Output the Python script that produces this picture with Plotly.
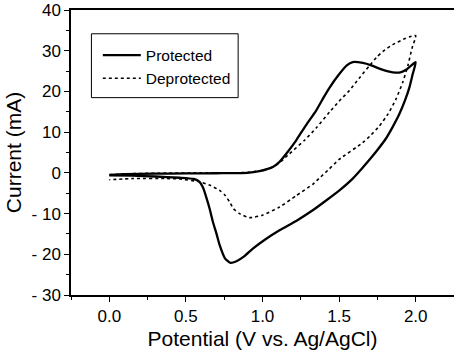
import plotly.graph_objects as go

# Protected (solid) cyclic voltammogram: forward then reverse scan
prot_x = [0.0, 0.1, 0.3, 0.5, 0.7, 0.9, 0.98, 1.03, 1.07, 1.111, 1.155, 1.22, 1.28, 1.35, 1.40,
          1.437, 1.50, 1.55, 1.589, 1.655, 1.71, 1.763, 1.82, 1.85, 1.90, 1.94, 2.0,
          1.98, 1.959, 1.93, 1.894, 1.85, 1.807, 1.75, 1.698, 1.645, 1.589, 1.502, 1.415,
          1.328, 1.22, 1.111, 1.02, 0.937, 0.88, 0.83, 0.79, 0.755, 0.72, 0.70, 0.676, 0.655,
          0.633, 0.61, 0.589, 0.55, 0.459, 0.3, 0.15, 0.0]
prot_y = [-0.5, -0.3, -0.2, -0.15, -0.1, 0.0, 0.4, 0.9, 1.5, 2.7, 4.7, 8.0, 11.5, 15.3, 18.6,
          20.9, 24.2, 26.4, 27.2, 27.0, 26.4, 25.6, 24.9, 24.7, 24.7, 25.4, 27.2,
          24.2, 21.0, 17.8, 14.5, 11.3, 8.5, 5.6, 3.2, 0.9, -1.4, -4.3, -6.8,
          -9.2, -11.8, -14.1, -16.3, -18.6, -20.5, -21.7, -22.1, -21.0, -17.7, -15.0, -12.0, -8.8,
          -6.0, -3.5, -2.2, -1.5, -1.2, -0.9, -0.7, -0.6]

# Deprotected (dotted) cyclic voltammogram
dep_x = [0.0, 0.1, 0.3, 0.6, 0.9, 1.0, 1.07, 1.12, 1.176, 1.274, 1.35, 1.437, 1.50, 1.567,
         1.63, 1.698, 1.75, 1.785, 1.85, 1.92, 1.96, 2.0,
         1.975, 1.95, 1.915, 1.87, 1.82, 1.763, 1.70, 1.654, 1.50, 1.437, 1.38, 1.328, 1.22, 1.111,
         1.0, 0.915, 0.85, 0.81, 0.785, 0.755, 0.72, 0.654, 0.59, 0.459, 0.37, 0.154, 0.0]
dep_y = [-0.5, -0.25, -0.1, 0.0, 0.1, 0.6, 1.5, 2.8, 4.7, 8.0, 11.0, 14.9, 17.6, 20.2,
         23.2, 26.3, 28.6, 29.8, 31.5, 32.8, 33.4, 33.7,
         30.5, 26.5, 22.2, 18.0, 14.5, 11.5, 9.0, 7.4, 3.3, 1.0, -1.0, -2.8, -5.6, -8.4,
         -10.4, -11.0, -10.0, -8.8, -7.1, -5.5, -4.3, -3.0, -2.2, -1.5, -1.4, -1.4, -1.7]

x_tick_vals = [0.0, 0.5, 1.0, 1.5, 2.0]
x_tick_text = ["0.0", "0.5", "1.0", "1.5", "2.0"]
y_tick_vals = [-30, -20, -10, 0, 10, 20, 30, 40]
y_tick_text = ["- 30", "- 20", "- 10", "0", "10", "20", "30", "40"]

FONT = "Liberation Sans, Arial, sans-serif"

fig = go.Figure()
fig.add_trace(go.Scatter(x=prot_x, y=prot_y, mode="lines", name="Protected",
                         line=dict(color="black", width=2.3, shape="spline", smoothing=0.5)))
fig.add_trace(go.Scatter(x=dep_x, y=dep_y, mode="lines", name="Deprotected",
                         line=dict(color="black", width=1.6, dash="dot", shape="spline", smoothing=0.5)))

# legend frame
fig.add_shape(type="rect", xref="paper", yref="paper", x0=0.0533, x1=0.4364, y0=0.6925, y1=0.9166,
              line=dict(color="black", width=1), fillcolor="rgba(0,0,0,0)")

fig.update_layout(
    width=454, height=352,
    margin=dict(l=71, r=0, t=10, b=57),
    paper_bgcolor="white", plot_bgcolor="white",
    font=dict(family=FONT, color="black"),
    showlegend=True,
    legend=dict(x=0.07, y=0.9, xanchor="left", yanchor="top", bgcolor="rgba(0,0,0,0)",
                borderwidth=0, font=dict(size=15.5, family=FONT), itemwidth=38,
                tracegroupgap=0),
    xaxis=dict(range=[-0.25, 2.25], tickvals=x_tick_vals, ticktext=x_tick_text,
               ticks="outside", ticklen=5, tickwidth=1.3, tickcolor="black",
               showline=True, linecolor="black", linewidth=1.5, mirror=True,
               showgrid=False, zeroline=False,
               tickfont=dict(size=17, family=FONT),
               minor=dict(dtick=0.25, tick0=0, ticks="outside", ticklen=3, tickwidth=1.3, tickcolor="black"),
               title=dict(text="Potential (V vs. Ag/AgCl)", font=dict(size=21, family=FONT), standoff=6)),
    yaxis=dict(range=[-30, 40], tickvals=y_tick_vals, ticktext=y_tick_text,
               ticks="outside", ticklen=5, tickwidth=1.3, tickcolor="black",
               showline=True, linecolor="black", linewidth=1.5, mirror=False,
               showgrid=False, zeroline=False,
               tickfont=dict(size=17, family=FONT),
               minor=dict(dtick=5, tick0=0, ticks="outside", ticklen=3, tickwidth=1.3, tickcolor="black"),
               title=dict(text="Current (mA)", font=dict(size=21, family=FONT), standoff=4)),
)

fig.write_html("out.html")
